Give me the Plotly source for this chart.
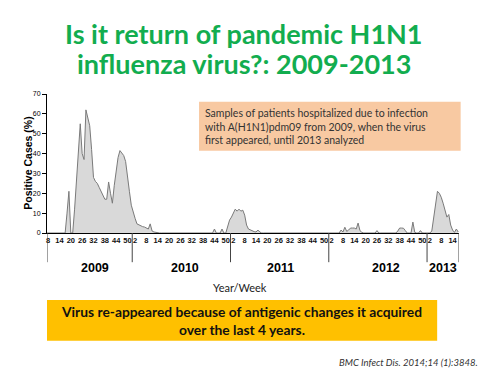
import plotly.graph_objects as go

# ---------------- data ----------------
weeks_2009 = list(range(7, 53))
vals_2009 = [0, 0, 0, 0, 0, 0, 0, 0, 0, 0,          # wk 7-16
             0, 10, 21, 0, 0, 12, 27, 42, 55, 40,   # wk 17-26
             37, 62, 58, 54, 42, 28, 26, 25, 23, 21,  # wk 27-36
             19, 17, 17, 25.7, 20, 15, 24, 32, 38, 41.5,  # wk 37-46
             40, 39, 36, 27, 21, 14]                 # wk 47-52

weeks_2010 = list(range(1, 53))
vals_2010 = [10, 7.4, 4.6, 4, 3.5, 3.2, 3, 2.5, 2, 4.6,
             1, 0.5, 0.3] + [0] * 30 + [2, 0, 0, 0, 2, 0, 0, 4, 6.5]

weeks_2011 = list(range(1, 53))
vals_2011 = [8, 10.5, 12, 11, 12, 11, 11.5, 9, 4, 2,
             1.5, 1, 0.7, 0.5, 1.5, 0.5] + [0] * 36

weeks_2012 = list(range(1, 53))
vals_2012 = [0, 0, 0, 0, 0, 0, 1.5, 0.5, 2.9, 0.8,
             1.5, 2.5, 2.5, 2.5, 2, 5, 1.2, 0.3, 0, 0,
             0, 0, 0, 0, 0, 1.2, 0, 0, 0, 0,
             0, 0, 0, 0, 0, 0, 1, 2.5, 2.5, 2.4,
             1.2, 0, 0, 0, 5.5, 0.3, 0, 0, 1.2, 0,
             0, 0]

weeks_2013 = list(range(1, 18))
vals_2013 = [0, 0, 1, 8, 14, 21, 20, 18, 15, 12,
             8, 9.3, 4, 1.5, 0.3, 2, 0.5]

years = [2009, 2010, 2011, 2012, 2013]
week_lists = [weeks_2009, weeks_2010, weeks_2011, weeks_2012, weeks_2013]
val_lists = [vals_2009, vals_2010, vals_2011, vals_2012, vals_2013]

tick_weeks_2009 = [8, 14, 20, 26, 32, 38, 44, 50]
tick_weeks_full = [2, 8, 14, 20, 26, 32, 38, 44, 50]
tick_weeks_2013 = [2, 8, 14]
tick_weeks = [tick_weeks_2009, tick_weeks_full, tick_weeks_full, tick_weeks_full, tick_weeks_2013]

y_ticks = [0, 10, 20, 30, 40, 50, 60, 70]

# continuous week index
def idx(year, week):
    return (year - 2009) * 52 + week

x_all, y_all = [], []
for yr, wks, vs in zip(years, week_lists, val_lists):
    for w, v in zip(wks, vs):
        x_all.append(idx(yr, w))
        y_all.append(v)

tickvals, ticktext = [], []
for yr, tw in zip(years, tick_weeks):
    for w in tw:
        tickvals.append(idx(yr, w))
        ticktext.append(f"<b>{w}</b>")

X0, X1 = 7.4, 225.4

fig = go.Figure()
fig.add_trace(go.Scatter(
    x=x_all, y=y_all, mode="lines", fill="tozeroy",
    fillcolor="#d9d9d9", line=dict(color="#7a7a7a", width=1),
    hoverinfo="skip", showlegend=False))

NARROW = "Liberation Sans Narrow, Arial Narrow, Liberation Sans, Arial"

# page body has an 8px margin, so the figure is drawn 8px smaller
fig.update_layout(
    width=479, height=368,
    margin=dict(l=39, r=28, t=86, b=143, autoexpand=False),
    paper_bgcolor="white", plot_bgcolor="white",
    showlegend=False,
    xaxis=dict(range=[X0, X1], showgrid=False, zeroline=False,
               showline=True, linecolor="black", linewidth=1,
               tickmode="array", tickvals=tickvals, ticktext=ticktext,
               ticks="", tickfont=dict(family=NARROW, size=7.5, color="#111111"),
               tickangle=0, automargin=False),
    yaxis=dict(range=[0, 70], showgrid=False, zeroline=False,
               showline=True, linecolor="black", linewidth=1,
               tickmode="array", tickvals=y_ticks,
               ticks="outside", ticklen=4, tickcolor="black",
               tickfont=dict(family="Liberation Sans, Arial", size=7, color="black"),
               automargin=False),
)

# y-axis title
fig.add_annotation(x=-0.048, y=0.5, xref="paper", yref="paper", textangle=-90,
                   xanchor="center", yanchor="middle", showarrow=False,
                   text="<b>Positive Cases (%)</b>",
                   font=dict(family="Liberation Sans, Arial", size=10.5, color="black"))

# year separators (below axis)
seps = [X0] + [idx(y, 0) + 0.5 for y in years[1:]] + [X1]
for s in seps:
    fig.add_shape(type="line", xref="x", yref="paper", x0=s, x1=s, y0=0, y1=-0.21,
                  line=dict(color="#444444", width=1))

# year labels
year_label_pos = [33, 80.5, 131, 187, 217]
for yr, xp in zip(years, year_label_pos):
    fig.add_annotation(x=xp, y=-0.252, xref="x", yref="paper", text=f"<b>{yr}</b>",
                       xanchor="center", yanchor="middle",
                       showarrow=False, font=dict(family=NARROW, size=12.5, color="black"))

fig.add_annotation(x=0.468, y=-0.39, xref="paper", yref="paper", text="Year/Week",
                   xanchor="center", yanchor="middle",
                   showarrow=False, font=dict(family="Lato, Liberation Sans", size=11, color="#222222"))

# title
title_font = dict(family="Lato, Liberation Sans", size=27, color="#12ad4f")
fig.add_annotation(x=0.478, y=(233 - 33) / 139, xref="paper", yref="paper",
                   xanchor="center", yanchor="middle",
                   text="<b>Is it return of pandemic H1N1</b>", showarrow=False, font=title_font)
fig.add_annotation(x=0.478, y=(233 - 63) / 139, xref="paper", yref="paper",
                   xanchor="center", yanchor="middle",
                   text="<b>influenza virus?: 2009-2013</b>", showarrow=False, font=title_font)

# orange info box
fig.add_shape(type="rect", xref="paper", yref="paper", x0=0.369, x1=1.004, y0=0.592, y1=0.945,
              fillcolor="#f8c9a2", line=dict(width=0), layer="above")
fig.add_annotation(x=0.378, y=0.768, xref="paper", yref="paper", xanchor="left", yanchor="middle",
                   align="left", showarrow=False,
                   text="Samples of patients hospitalized due to infection<br>"
                        "with A(H1N1)pdm09 from 2009, when the virus<br>"
                        "first appeared, until 2013 analyzed",
                   font=dict(family="Lato, Liberation Sans", size=10.5, color="#333333"))

# yellow conclusion box
fig.add_shape(type="rect", xref="paper", yref="paper", x0=0.0, x1=0.947, y0=-0.775, y1=-0.482,
              fillcolor="#ffc000", line=dict(width=0))
fig.add_annotation(x=0.473, y=-0.63, xref="paper", yref="paper", showarrow=False, align="center",
                   xanchor="center", yanchor="middle",
                   text="<b>Virus re-appeared because of antigenic changes it acquired<br>"
                        "over the last 4 years.</b>",
                   font=dict(family="Lato, Liberation Sans", size=13.8, color="#111111"))

# citation
fig.add_annotation(x=1.051, y=-0.935, xref="paper", yref="paper", xanchor="right", yanchor="middle",
                   showarrow=False,
                   text="<i>BMC Infect Dis. 2014;14 (1):3848.</i>",
                   font=dict(family="Lato, Liberation Sans", size=9.5, color="#333333"))

fig.write_html("out.html")
